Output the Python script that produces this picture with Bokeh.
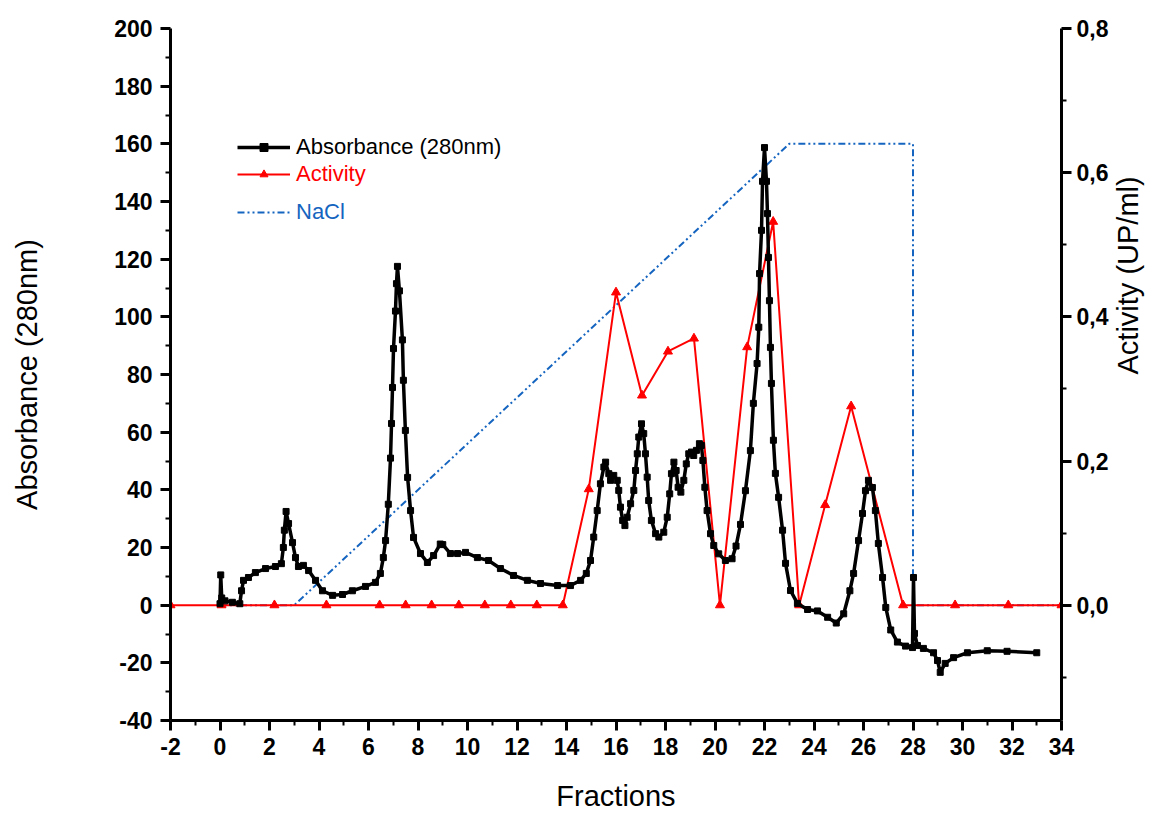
import math
from bokeh.plotting import figure
from bokeh.models import (Range1d, LinearAxis, FixedTicker, CustomJSTickFormatter,
                          Legend, LegendItem)
from bokeh.embed import file_html
from bokeh.resources import INLINE

# ---------------- data ----------------
abs_x = [0.0, 0.03, 0.07, 0.2, 0.5, 0.8, 0.87, 0.95, 1.15, 1.43, 1.84, 2.24, 2.48, 2.56, 2.6,
         2.67, 2.77, 2.93, 3.05, 3.17, 3.37, 3.58, 3.86, 4.14, 4.55, 4.95, 5.35, 5.88, 6.28,
         6.48, 6.6, 6.69, 6.8, 6.89, 6.93, 6.97, 7.01, 7.09, 7.13, 7.17, 7.25, 7.37, 7.41,
         7.49, 7.58, 7.7, 7.82, 8.1, 8.38, 8.63, 8.9, 9.0, 9.31, 9.6, 9.92, 10.4, 10.85,
         11.33, 11.86, 12.42, 12.95, 13.64, 14.16, 14.57, 14.8, 14.97, 15.1, 15.24, 15.37,
         15.51, 15.58, 15.71, 15.78, 15.91, 16.05, 16.11, 16.18, 16.27, 16.36, 16.45, 16.59,
         16.72, 16.79, 16.86, 16.92, 17.03, 17.12, 17.19, 17.26, 17.32, 17.43, 17.6, 17.73,
         17.93, 18.07, 18.17, 18.24, 18.34, 18.43, 18.51, 18.62, 18.74, 18.84, 18.94, 19.05,
         19.14, 19.25, 19.37, 19.45, 19.51, 19.59, 19.68, 19.82, 19.95, 20.15, 20.42, 20.69,
         20.85, 21.03, 21.23, 21.43,
         21.55, 21.7, 21.77, 21.8, 21.88, 21.92, 22.0, 22.08, 22.12, 22.16, 22.2, 22.24,
         22.28, 22.36, 22.44, 22.57, 22.73, 22.85, 23.05, 23.33, 23.74, 24.14, 24.55, 24.9,
         25.2, 25.45, 25.6, 25.8, 25.96, 26.08, 26.2, 26.36, 26.48, 26.6, 26.77, 26.9,
         27.1, 27.37, 27.7, 27.98, 28.02, 28.06, 28.18, 28.42, 28.83, 28.99, 29.1, 29.3,
         29.64, 30.2, 31.0, 31.8, 33.0]
abs_y = [0.5, 10.5, 2.5, 1.5, 1.0, 0.5, 5.0, 8.6, 9.6, 11.3, 12.7, 13.4, 14.4, 20.0, 26.0,
         32.5, 28.3, 21.7, 16.5, 13.4, 13.8, 12.0, 8.6, 5.0, 3.4, 3.7, 5.0, 6.5, 7.9,
         11.0, 16.5, 22.4, 35.0, 51.0, 63.0, 75.5, 89.0, 102.0, 111.5, 117.5, 109.0, 92.0, 78.0,
         60.6, 44.3, 32.8, 23.5, 17.9, 14.8, 17.2, 21.2, 21.0, 17.9, 17.9, 18.3, 16.5, 15.5,
         12.7, 10.3, 8.6, 7.5, 6.8, 6.8, 8.6, 11.0, 15.5, 23.6, 32.8, 42.1,
         47.9, 49.6, 45.6, 43.3, 45.0, 43.3, 39.8, 34.0, 29.4, 27.6, 30.5, 35.2,
         39.8, 46.7, 52.5, 58.3, 62.9, 59.5, 52.5, 44.4, 36.3, 29.4, 24.8, 23.6,
         25.3, 30.5, 38.6, 45.6, 49.6, 46.7, 40.9, 39.2, 43.3, 49.0, 52.5, 53.1,
         51.9, 53.7, 56.0, 55.4, 50.2, 40.9, 32.8, 24.8, 20.7, 17.8, 15.5, 16.1,
         20.5, 28.0, 39.7, 53.6,
         70.0, 83.8, 96.4, 115.0, 130.0, 147.0, 158.7, 147.0, 135.8, 120.6, 105.6, 89.4,
         76.9, 57.2, 45.7, 37.4, 26.0, 14.5, 5.1, 0.6, -1.5, -2.0, -4.2, -6.2,
         -3.0, 5.0, 11.0, 22.4, 31.8, 39.7, 43.3, 40.8, 32.8, 21.4, 9.6, -0.8,
         -8.6, -12.8, -14.2, -14.7, 9.6, -9.8, -14.0, -15.0, -16.5, -19.2, -23.3, -20.2,
         -18.2, -16.5, -15.8, -16.0, -16.5]

act_x = [-2, 0.06, 2.2, 4.3, 6.45, 7.5, 8.55, 9.65, 10.7, 11.75, 12.8, 13.85, 14.9, 16.0,
         17.05, 18.1, 19.15, 20.2, 21.3, 22.35, 23.4, 24.45, 25.5, 27.6, 29.7, 31.85, 34.0]
act_y = [0, 0, 0, 0, 0, 0, 0, 0, 0, 0, 0, 0, 0.161, 0.434,
         0.291, 0.352, 0.370, 0, 0.358, 0.532, 0, 0.139, 0.276, 0, 0, 0, 0]

nacl_x = [0, 3, 23, 28, 28, 34]
nacl_y = [0, 0, 160, 160, 0, 0]

left_ticks = list(range(-40, 201, 20))
left_minor = list(range(-30, 200, 20))
bottom_ticks = list(range(-2, 35, 2))
bottom_minor = list(range(-1, 34, 2))
right_ticks = [0.0, 0.2, 0.4, 0.6, 0.8]
right_minor = [-0.1, 0.1, 0.3, 0.5, 0.7]

FONT = "Liberation Sans"
BLUE = "#1565c0"
RED = "#ff0000"

p = figure(width=1164, height=814, output_backend="svg", toolbar_location=None,
           x_range=Range1d(-2, 34), y_range=Range1d(-40, 200),
           min_border_left=170, min_border_right=103, min_border_top=28,
           min_border_bottom=94)
p.outline_line_color = None
p.grid.visible = False
p.extra_y_ranges = {"act": Range1d(-0.16, 0.8)}
p.background_fill_color = "white"


def style_axis(ax, ticks, minor):
    ax.ticker = FixedTicker(ticks=ticks, minor_ticks=minor)
    ax.axis_line_width = 3
    ax.axis_line_color = "black"
    ax.major_tick_line_width = 3
    ax.minor_tick_line_width = 2
    ax.major_tick_out = 10
    ax.major_tick_in = 0
    ax.minor_tick_out = 5
    ax.minor_tick_in = 0
    ax.major_label_text_font = FONT
    ax.major_label_text_font_style = "bold"
    ax.major_label_text_font_size = "23px"
    ax.major_label_text_color = "black"
    ax.axis_label_text_font = FONT
    ax.axis_label_text_font_style = "normal"
    ax.axis_label_text_font_size = "29px"
    ax.axis_label_text_color = "black"


plain = "return tick.toString();"

xa = p.xaxis[0]
style_axis(xa, bottom_ticks, bottom_minor)
xa.formatter = CustomJSTickFormatter(code=plain)
xa.axis_label = "Fractions"
xa.major_label_standoff = 7
xa.axis_label_standoff = 22

ya = p.yaxis[0]
style_axis(ya, left_ticks, left_minor)
ya.formatter = CustomJSTickFormatter(code=plain)
ya.axis_label = "Absorbance (280nm)"
ya.major_label_standoff = 8
ya.axis_label_standoff = 68

ra = LinearAxis(y_range_name="act", axis_label="Activity (UP/ml)")
style_axis(ra, right_ticks, right_minor)
ra.formatter = CustomJSTickFormatter(code="return tick.toFixed(1).replace('.', ',');")
ra.major_label_standoff = 5
ra.axis_label_standoff = 17
ra.axis_label_orientation = math.pi / 2
p.add_layout(ra, "right")

# NaCl gradient
nacl = p.line(nacl_x, nacl_y, line_color=BLUE, line_width=2, line_dash="7 3 2 3 2 3")

# Activity
act_line = p.line(act_x, act_y, y_range_name="act", line_color=RED, line_width=2)
act_pts = p.scatter(act_x, act_y, y_range_name="act", marker="triangle", size=9,
                    fill_color=RED, line_color=RED)

# Absorbance
abs_line = p.line(abs_x, abs_y, line_color="black", line_width=3.5)
abs_pts = p.scatter(abs_x, abs_y, marker="square", size=6, fill_color="black",
                    line_color="black")


def make_legend(label, renderers, color, y):
    lg = Legend(items=[LegendItem(label=label, renderers=renderers)],
                location=(67, y), margin=0, padding=0, spacing=0,
                border_line_color=None, background_fill_alpha=0,
                glyph_width=53, glyph_height=20, label_height=20,
                label_standoff=6,
                label_text_font=FONT, label_text_font_size="22px",
                label_text_color=color)
    p.add_layout(lg)


make_legend("Absorbance (280nm)", [abs_line, abs_pts], "black", 560)
make_legend("Activity", [act_line, act_pts], RED, 533)
make_legend("NaCl", [nacl], BLUE, 495)

open("out.html", "w").write(file_html(p, INLINE))
